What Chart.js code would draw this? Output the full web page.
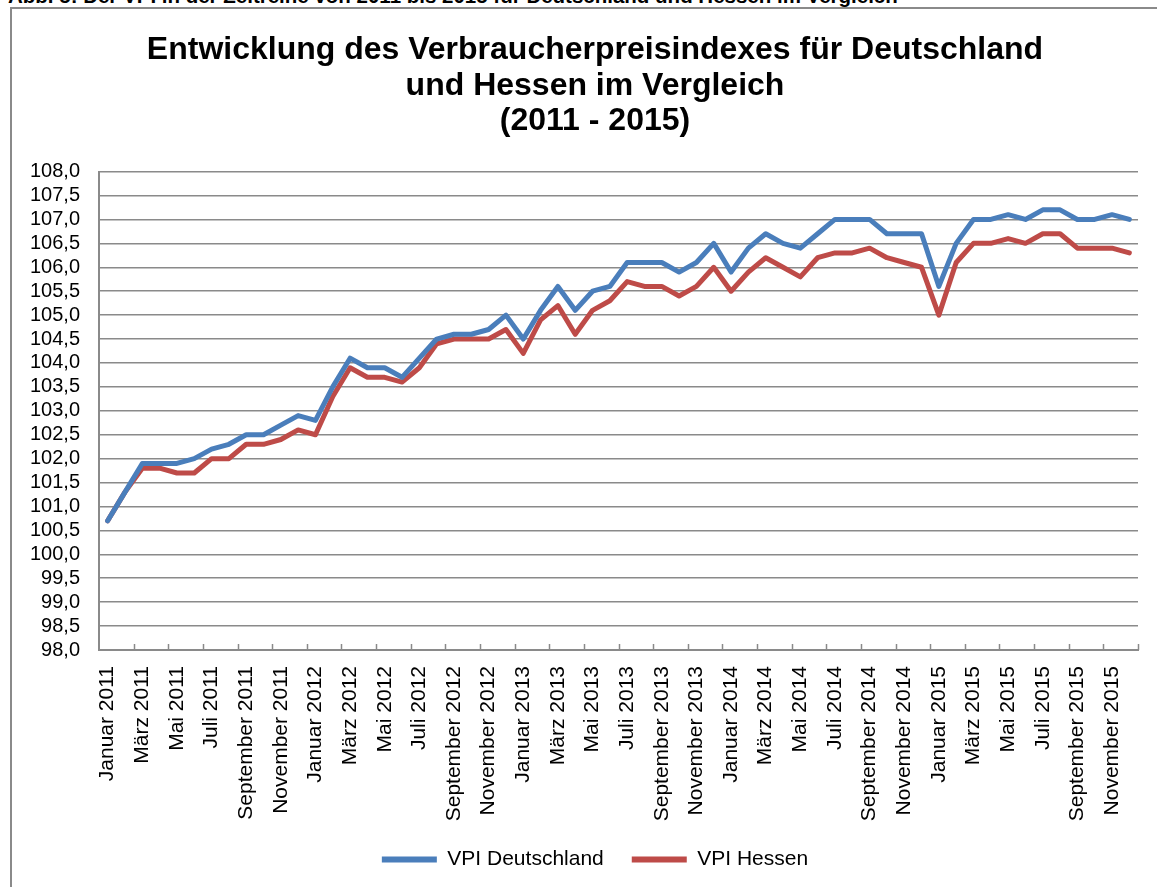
<!DOCTYPE html>
<html>
<head>
<meta charset="utf-8">
<script src="https://cdn.jsdelivr.net/npm/chart.js@4/dist/chart.umd.min.js"></script>
<style>
  html, body { margin: 0; padding: 0; background: #fff; overflow: hidden; width: 1157px; height: 887px; }
  #caption { position: absolute; left: 8px; top: -14px; font: bold 20.5px "Liberation Sans", Arial, sans-serif; color: #000; white-space: nowrap; line-height: 20px; }
  #frame { position: absolute; left: 10px; top: 7px; width: 1166px; height: 880px; border: 2px solid #8a8a8a; background: #fff; }
  canvas { display: block; }
</style>
</head>
<body>
<div id="caption">Abb. 5: Der VPI in der Zeitreihe von 2011 bis 2015 für Deutschland und Hessen im Vergleich</div>
<div id="frame"><canvas id="c" width="1166" height="880"></canvas></div>
<script>
const years = [2011, 2012, 2013, 2014, 2015];
const monthNames = ["Januar", "Februar", "März", "April", "Mai", "Juni", "Juli", "August", "September", "Oktober", "November", "Dezember"];
const categories = [];
years.forEach(y => monthNames.forEach(m => categories.push(m + " " + y)));

const vpiDeutschland = [
  100.7, 101.3, 101.9, 101.9, 101.9, 102.0, 102.2, 102.3, 102.5, 102.5, 102.7, 102.9,
  102.8, 103.5, 104.1, 103.9, 103.9, 103.7, 104.1, 104.5, 104.6, 104.6, 104.7, 105.0,
  104.5, 105.1, 105.6, 105.1, 105.5, 105.6, 106.1, 106.1, 106.1, 105.9, 106.1, 106.5,
  105.9, 106.4, 106.7, 106.5, 106.4, 106.7, 107.0, 107.0, 107.0, 106.7, 106.7, 106.7,
  105.6, 106.5, 107.0, 107.0, 107.1, 107.0, 107.2, 107.2, 107.0, 107.0, 107.1, 107.0
];
const vpiHessen = [
  100.7, 101.3, 101.8, 101.8, 101.7, 101.7, 102.0, 102.0, 102.3, 102.3, 102.4, 102.6,
  102.5, 103.3, 103.9, 103.7, 103.7, 103.6, 103.9, 104.4, 104.5, 104.5, 104.5, 104.7,
  104.2, 104.9, 105.2, 104.6, 105.1, 105.3, 105.7, 105.6, 105.6, 105.4, 105.6, 106.0,
  105.5, 105.9, 106.2, 106.0, 105.8, 106.2, 106.3, 106.3, 106.4, 106.2, 106.1, 106.0,
  105.0, 106.1, 106.5, 106.5, 106.6, 106.5, 106.7, 106.7, 106.4, 106.4, 106.4, 106.3
];
const titleLines = ["Entwicklung des Verbraucherpreisindexes für Deutschland", "und Hessen im Vergleich", "(2011 - 2015)"];
const seriesNames = ["VPI Deutschland", "VPI Hessen"];
const yMin = 98, yMax = 108, yStep = 0.5;

const FONT = '"Liberation Sans", Arial, sans-serif';
const GRID = '#8a8a8a';

const innerTicks = {
  id: 'innerTicks',
  afterDatasetsDraw(chart) {
    const xs = chart.scales.x;
    const ctx = chart.ctx;
    const step = xs.getPixelForValue(1) - xs.getPixelForValue(0);
    const bottom = chart.chartArea.bottom;
    ctx.save();
    ctx.strokeStyle = GRID;
    ctx.lineWidth = 1.5;
    ctx.beginPath();
    for (let i = 1; i < categories.length; i += 2) {
      const x = Math.round(xs.getPixelForValue(i) + step / 2) + 0.5;
      ctx.moveTo(x, bottom);
      ctx.lineTo(x, bottom - 6);
    }
    ctx.stroke();
    ctx.restore();
  }
};

new Chart(document.getElementById('c'), {
  type: 'line',
  data: {
    labels: categories,
    datasets: [
      { label: seriesNames[0], data: vpiDeutschland, borderColor: '#4A7EBB', backgroundColor: '#4A7EBB', borderWidth: 5, pointRadius: 0, tension: 0, borderJoinStyle: 'round', borderCapStyle: 'round' },
      { label: seriesNames[1], data: vpiHessen, borderColor: '#BE4B48', backgroundColor: '#BE4B48', borderWidth: 5, pointRadius: 0, tension: 0, borderJoinStyle: 'round', borderCapStyle: 'round' }
    ]
  },
  options: {
    responsive: false,
    animation: false,
    layout: { padding: { left: 0, right: 0, top: 0, bottom: 9 } },
    plugins: {
      title: {
        display: true,
        text: titleLines,
        color: '#000',
        font: { family: FONT, size: 32, weight: 'bold', lineHeight: 1.1 },
        padding: { top: 24, bottom: 33 }
      },
      legend: {
        position: 'bottom',
        labels: {
          color: '#000',
          font: { family: FONT, size: 21 },
          boxWidth: 55,
          boxHeight: 6,
          padding: 28,
          generateLabels(chart) {
            return chart.data.datasets.map((ds, i) => ({
              text: ds.label, fillStyle: ds.borderColor, strokeStyle: ds.borderColor,
              lineWidth: 0, hidden: false, datasetIndex: i, fontColor: '#000'
            }));
          }
        }
      },
      tooltip: { enabled: false }
    },
    scales: {
      x: {
        offset: true,
        grid: { display: true, drawOnChartArea: false, drawTicks: false, offset: true },
        border: { display: true, color: GRID, width: 2 },
        ticks: {
          autoSkip: false, maxRotation: 90, minRotation: 90, padding: 16,
          color: '#000', font: { family: FONT, size: 21 },
          callback: function(v, i) { return i % 2 === 0 ? categories[i] : ''; }
        },
        afterFit(scale) { scale.height = 171; }
      },
      y: {
        min: yMin, max: yMax,
        grid: { color: GRID, lineWidth: 1.5, drawTicks: false },
        border: { display: true, color: GRID, width: 2 },
        ticks: {
          stepSize: yStep, autoSkip: false, padding: 19, color: '#000', font: { family: FONT, size: 20 },
          callback: v => Number(v).toFixed(1).replace('.', ',')
        },
        afterFit(scale) { scale.width = 87; }
      },
      yRightSpace: {
        position: 'right',
        min: yMin, max: yMax,
        grid: { drawOnChartArea: false, drawTicks: false },
        border: { display: false },
        ticks: { display: false },
        afterFit(scale) { scale.width = 40; }
      }
    }
  },
  plugins: [innerTicks]
});
</script>
</body>
</html>
